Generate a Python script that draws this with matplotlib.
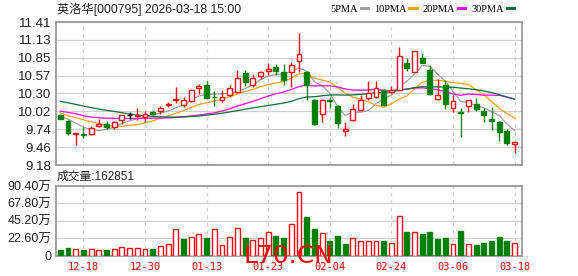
import matplotlib
matplotlib.use('Agg')
import matplotlib.pyplot as plt
from matplotlib.patches import Rectangle
import numpy as np
import pandas as pd

# ---------------- data ----------------
title = "英洛华[000795] 2026-03-18 15:00"
vol_title = "成交量:162851"

dates = ["2025-12-15", "2025-12-16", "2025-12-17", "2025-12-18", "2025-12-19",
         "2025-12-22", "2025-12-23", "2025-12-24", "2025-12-25", "2025-12-26",
         "2025-12-29", "2025-12-30", "2025-12-31",
         "2026-01-05", "2026-01-06", "2026-01-07", "2026-01-08", "2026-01-09",
         "2026-01-12", "2026-01-13", "2026-01-14", "2026-01-15", "2026-01-16",
         "2026-01-19", "2026-01-20", "2026-01-21", "2026-01-22", "2026-01-23",
         "2026-01-26", "2026-01-27", "2026-01-28", "2026-01-29", "2026-01-30",
         "2026-02-02", "2026-02-03", "2026-02-04", "2026-02-05", "2026-02-06",
         "2026-02-09", "2026-02-10", "2026-02-11", "2026-02-12", "2026-02-13",
         "2026-02-24", "2026-02-25", "2026-02-26", "2026-02-27",
         "2026-03-02", "2026-03-03", "2026-03-04", "2026-03-05", "2026-03-06",
         "2026-03-09", "2026-03-10", "2026-03-11", "2026-03-12", "2026-03-13",
         "2026-03-16", "2026-03-17", "2026-03-18"]

opens = [9.96, 9.87, 9.67, 9.66, 9.658, 9.788, 9.819, 9.767, 9.876, 9.957,
         9.95, 9.923, 10.011, 10.016, 10.118, 10.20, 10.115, 10.178, 10.375, 10.422,
         10.245, 10.193, 10.271, 10.323, 10.62, 10.427, 10.568, 10.651, 10.708, 10.632,
         10.632, 10.805, 10.632, 10.199, 9.980, 10.194, 10.095, 9.708, 9.886, 10.042,
         10.230, 10.241, 10.345, 10.319, 10.356, 10.773, 10.632, 10.851, 10.658, 10.209,
         10.434, 10.074, 10.001, 10.095, 10.126, 10.016, 9.896, 9.844, 9.718, 9.510]
highs = [9.97, 9.88, 9.685, 9.78, 9.79, 9.89, 9.866, 9.871, 9.964, 10.006,
         10.063, 10.022, 10.032, 10.10, 10.162, 10.40, 10.235, 10.36, 10.443, 10.49,
         10.339, 10.349, 10.427, 10.661, 10.661, 10.599, 10.646, 10.776, 10.755, 10.752,
         10.789, 11.243, 10.643, 10.215, 10.215, 10.241, 10.110, 9.849, 10.126, 10.267,
         10.491, 10.486, 10.371, 10.408, 11.013, 10.841, 10.956, 10.930, 10.747, 10.528,
         10.502, 10.277, 10.074, 10.189, 10.230, 10.074, 10.084, 9.859, 9.745, 9.541]
lows = [9.89, 9.65, 9.49, 9.595, 9.647, 9.767, 9.741, 9.746, 9.814, 9.897,
        9.881, 9.855, 9.959, 9.97, 10.079, 10.15, 10.079, 10.167, 10.287, 10.204,
        10.10, 10.167, 10.245, 10.308, 10.411, 10.401, 10.516, 10.583, 10.583, 10.423,
        10.397, 10.632, 10.189, 9.797, 9.849, 10.074, 9.760, 9.640, 9.865, 10.032,
        10.189, 10.230, 10.110, 10.303, 10.345, 10.643, 10.632, 10.763, 10.267, 10.199,
        10.058, 10.006, 9.614, 10.006, 10.016, 9.849, 9.719, 9.551, 9.494, 9.363]
closes = [9.90, 9.673, 9.68, 9.65, 9.751, 9.824, 9.777, 9.845, 9.954, 9.957,
          9.96, 9.980, 9.975, 10.074, 10.125, 10.21, 10.193, 10.349, 10.411, 10.232,
          10.235, 10.24, 10.375, 10.531, 10.479, 10.531, 10.63, 10.672, 10.651, 10.502,
          10.737, 10.909, 10.423, 9.813, 10.189, 10.183, 9.834, 9.745, 10.058, 10.199,
          10.303, 10.387, 10.110, 10.356, 10.878, 10.695, 10.956, 10.773, 10.293, 10.267,
          10.136, 10.173, 9.990, 10.189, 10.058, 9.954, 9.870, 9.692, 9.520, 9.541]
# volume in 万 (10k shares)
volumes = [6.6, 10.2, 8.3, 6.6, 8.7, 7.4, 6.6, 8.7, 11.1, 9.2,
           9.8, 8.7, 9.0, 12.7, 14.4, 35.0, 21.0, 24.5, 28.4, 23.1,
           34.0, 14.2, 24.5, 36.0, 22.3, 20.5, 23.1, 31.0, 26.0, 23.1,
           41.5, 83.0, 49.8, 34.1, 29.7, 18.3, 24.9, 14.4, 23.1, 19.2,
           19.2, 19.2, 18.3, 16.6, 52.0, 30.1, 30.1, 27.5, 30.1, 21.0,
           22.3, 14.4, 31.4, 15.3, 13.1, 15.7, 18.3, 23.6, 18.3, 16.2851]

ma5_head = [9.938, 9.896, 9.833, 9.771]
ma10_head = [9.995, 9.948, 9.917, 9.885, 9.854, 9.823, 9.802, 9.786, 9.781]
ma20_head = [10.021, 10.000, 9.979, 9.948, 9.927, 9.917, 9.910, 9.908, 9.906, 9.906,
             9.906, 9.908, 9.910, 9.912, 9.915, 9.922, 9.932, 9.944, 9.958]
ma30_head = [10.173, 10.150, 10.125, 10.100, 10.075, 10.052, 10.032, 10.016, 9.995, 9.975,
             9.960, 9.948, 9.938, 9.932, 9.928, 9.927, 9.930, 9.936, 9.945, 9.958,
             9.972, 9.988, 10.008, 10.028, 10.050, 10.070, 10.090, 10.108, 10.127]

price_ticks = [9.18, 9.46, 9.74, 10.02, 10.30, 10.57, 10.85, 11.13, 11.41]
vol_ticks = [0, 22.60, 45.20, 67.80, 90.40]
date_ticks = ["12-18", "12-30", "01-13", "01-23", "02-04", "02-24", "03-06", "03-18"]
ma_labels = ["5PMA", "10PMA", "20PMA", "30PMA"]
ma_colors = ["#a0a0a0", "#f5a300", "#ff00ff", "#0a6b3a"]

# ---------------- figure ----------------
W, H = 578, 276
fig = plt.figure(figsize=(W / 100, H / 100), dpi=100)
fig.patch.set_facecolor("white")

def rect(x0, y0, x1, y1):
    return [x0 / W, 1 - y1 / H, (x1 - x0) / W, (y1 - y0) / H]

ax1 = fig.add_axes(rect(55.7, 22, 522.3, 165))
ax2 = fig.add_axes(rect(55.7, 186, 522.3, 255.5))

RED = "#ff0000"
GREEN = "#008000"
SPINE = "#9a9a9a"
GRID = "#d0d0d0"
cjk = ["Liberation Sans", "Noto Sans CJK SC"]

n = len(closes)
x = np.arange(n)
w = 0.64

close_s = pd.Series(closes)
mas = []
for win, head in [(5, ma5_head), (10, ma10_head), (20, ma20_head), (30, ma30_head)]:
    m = close_s.rolling(win).mean().to_numpy()
    m[:len(head)] = head
    mas.append(m)

# candles
for i in range(n):
    o, h, l, c = opens[i], highs[i], lows[i], closes[i]
    if c > o:
        col, fill = RED, "white"
    elif c < o:
        col, fill = GREEN, GREEN
    else:
        col, fill = "black", "black"
    ax1.vlines(x[i], l, h, color=col, lw=1.0, zorder=3)
    ax1.add_patch(Rectangle((x[i] - w / 2, min(o, c)), w, max(abs(c - o), 0.0001),
                            facecolor=fill, edgecolor=col, lw=1.0, zorder=4))

lines = []
for m, col, lab in zip(mas, ma_colors, ma_labels):
    ln, = ax1.plot(x, m, color=col, lw=0.9, zorder=2, label=lab)
    lines.append(ln)

# volumes
for i in range(n):
    prev = closes[i - 1] if i > 0 else opens[i]
    if closes[i] >= prev:
        ax2.add_patch(Rectangle((x[i] - w / 2, 0), w, volumes[i], facecolor="white",
                                edgecolor=RED, lw=1.0, zorder=3))
    else:
        ax2.add_patch(Rectangle((x[i] - w / 2, 0), w, volumes[i], facecolor=GREEN,
                                edgecolor=GREEN, lw=1.0, zorder=3))

tick_idx = [i for i, d in enumerate(dates) if d[5:] in date_ticks]

for ax in (ax1, ax2):
    ax.set_xlim(-0.6, 60.0)
    for s in ax.spines.values():
        s.set_color(SPINE)
        s.set_linewidth(1.3)
    ax.tick_params(length=0, labelsize=9.5, colors="#222222", pad=3)
    for t in tick_idx:
        ax.axvline(t, color=GRID, lw=0.9, ls=(0, (3, 3)), zorder=1)
    ax.set_xticks(tick_idx)

ax1.set_ylim(9.18, 11.41)
ax1.set_yticks(price_ticks)
ax1.set_yticklabels([f"{v:.2f}" for v in price_ticks], family=cjk)
for v in price_ticks:
    ax1.axhline(v, color=GRID, lw=0.9, zorder=1)
ax1.set_xticklabels([])

ax2.set_ylim(0, 90.40)
ax2.set_yticks(vol_ticks)
ax2.set_yticklabels(["0" if v == 0 else f"{v:.2f}万" for v in vol_ticks], family=cjk,
                    fontsize=9)
for v in vol_ticks:
    ax2.axhline(v, color=GRID, lw=0.9, zorder=1)
ax2.set_xticklabels([d[5:] for d in (dates[i] for i in tick_idx)],
                    color=RED, family="DejaVu Sans Mono", fontsize=7.5)
ax2.tick_params(axis="x", pad=5)

fig.text(57 / W, 1 - 9.5 / H, title, family=cjk, fontsize=8.8, color="#222222",
         va="center", ha="left")
fig.text(57 / W, 1 - 177 / H, vol_title, family=cjk, fontsize=8.5, color="#222222",
         va="center", ha="left")

leg = fig.legend(lines, ma_labels, ncol=4, loc="center right",
                 bbox_to_anchor=(514 / W, 1 - 9.5 / H), frameon=False,
                 markerfirst=False, handlelength=0.7, handletextpad=0.25,
                 columnspacing=0.6, borderpad=0, borderaxespad=0,
                 prop={"family": "Liberation Serif", "size": 7.5})
for l in leg.get_lines():
    l.set_linewidth(2.2)

fig.text(243 / W, 1 - 256 / H, "L70.CN", color=RED, fontsize=18, family="DejaVu Sans",
         va="center", ha="left", zorder=10)

fig.savefig("out.png", dpi=100)
